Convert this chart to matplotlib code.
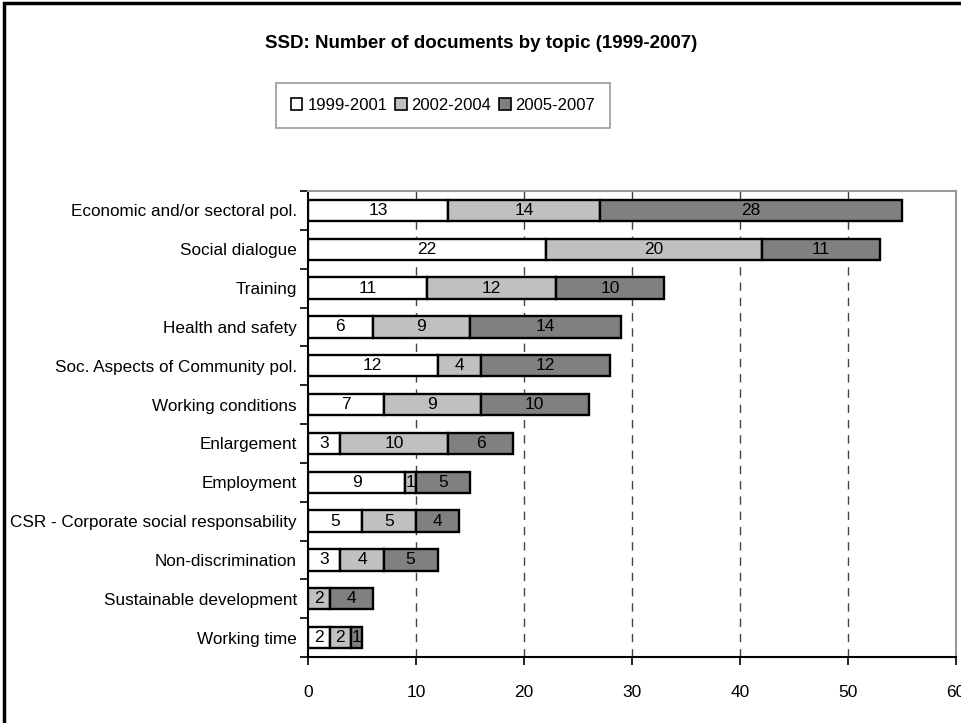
import matplotlib
matplotlib.use("Agg")
import matplotlib.pyplot as plt
from matplotlib.patches import Patch, Rectangle

# --- data -------------------------------------------------------------
topics = [
    "Economic and/or sectoral pol.",
    "Social dialogue",
    "Training",
    "Health and safety",
    "Soc. Aspects of Community pol.",
    "Working conditions",
    "Enlargement",
    "Employment",
    "CSR - Corporate social responsability",
    "Non-discrimination",
    "Sustainable development",
    "Working time",
]
period_labels = ["1999-2001", "2002-2004", "2005-2007"]
docs_1999_2001 = [13, 22, 11, 6, 12, 7, 3, 9, 5, 3, 0, 2]
docs_2002_2004 = [14, 20, 12, 9, 4, 9, 10, 1, 5, 4, 2, 2]
docs_2005_2007 = [28, 11, 10, 14, 12, 10, 6, 5, 4, 5, 4, 1]
x_ticks = [0, 10, 20, 30, 40, 50, 60]
title_text = "SSD: Number of documents by topic (1999-2007)"

series = [docs_1999_2001, docs_2002_2004, docs_2005_2007]
colors = ["#FFFFFF", "#C0C0C0", "#808080"]

plt.rcParams["font.family"] = ["Liberation Sans", "DejaVu Sans"]

W, H = 962, 723
fig = plt.figure(figsize=(W / 100, H / 100), dpi=100)

# chart frame (right and bottom edges fall outside the canvas)
fig.patches.append(Rectangle((4 / W, -0.05), 1.2, 1 - 3 / H + 0.05,
                             transform=fig.transFigure, fill=False,
                             edgecolor="black", linewidth=2.5))

ax = fig.add_axes([308 / W, 1 - 657 / H, (956 - 308) / W, (657 - 191) / H])

n = len(topics)
ypos = list(range(n))
left = [0] * n
for vals, col, lab in zip(series, colors, period_labels):
    bars = ax.barh(ypos, vals, left=left, height=0.55, color=col,
                   edgecolor="black", linewidth=1.7, label=lab, zorder=3)
    ax.bar_label(bars, labels=[str(v) if v > 0 else "" for v in vals],
                 label_type="center", fontsize=12.5, color="black", zorder=4)
    left = [a + b for a, b in zip(left, vals)]

ax.set_xlim(x_ticks[0], x_ticks[-1])
ax.set_ylim(n - 0.5, -0.5)

# dashed gridlines at interior ticks
for t in x_ticks[1:-1]:
    ax.axvline(t, color="#444444", linewidth=1, linestyle=(0, (6, 5)), zorder=1)

ax.set_xticks(x_ticks)
ax.set_xticklabels([str(t) for t in x_ticks], fontsize=12.5)
ax.tick_params(axis="x", direction="out", length=6, width=1.2, pad=14)

ax.set_yticks(ypos)
ax.set_yticklabels(topics, fontsize=12.3)
ax.tick_params(axis="y", which="major", length=0, pad=8)
ax.set_yticks([i - 0.5 for i in range(n + 1)], minor=True)
ax.tick_params(axis="y", which="minor", direction="out", length=6, width=1.2)

for side in ("left", "bottom"):
    ax.spines[side].set_color("black")
    ax.spines[side].set_linewidth(1.5)
for side in ("top", "right"):
    ax.spines[side].set_color("#999999")
    ax.spines[side].set_linewidth(1.5)

fig.text(0.5, 1 - 44 / H, title_text, ha="center", va="center",
         fontsize=13.5, fontweight="bold")

handles = [Patch(facecolor=c, edgecolor="black", linewidth=1.2) for c in colors]
leg = fig.legend(handles, period_labels, loc="center", ncol=3,
                 bbox_to_anchor=(443 / W, 1 - 105 / H), fontsize=12,
                 frameon=True, fancybox=False, edgecolor="#808080",
                 handlelength=0.7, handleheight=0.7, handletextpad=0.3,
                 columnspacing=0.45, borderpad=0.9, borderaxespad=0)
leg.get_frame().set_linewidth(1.2)

fig.savefig("out.png", dpi=100)
